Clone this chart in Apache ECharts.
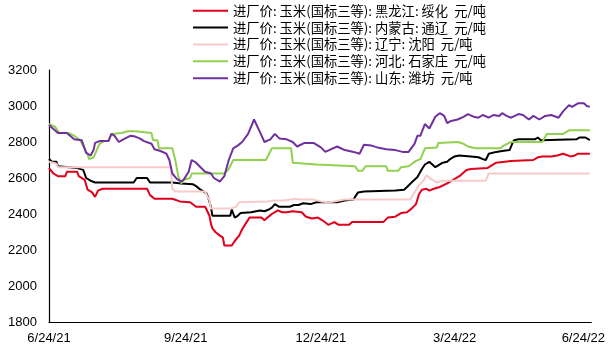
<!DOCTYPE html>
<html>
<head>
<meta charset="utf-8">
<script src="https://cdn.jsdelivr.net/npm/echarts@6/dist/echarts.min.js"></script>
<style>
  html, body { margin: 0; padding: 0; background: #fff; }
  #chart { width: 608px; height: 350px; }
</style>
</head>
<body>
<div id="chart"></div>
<script>
// Corn (national grade 3) factory-gate prices, yuan/tonne
const seriesNames = [
  '进厂价: 玉米(国标三等): 黑龙江: 绥化  元/吨',
  '进厂价: 玉米(国标三等): 内蒙古: 通辽  元/吨',
  '进厂价: 玉米(国标三等): 辽宁: 沈阳  元/吨',
  '进厂价: 玉米(国标三等): 河北: 石家庄  元/吨',
  '进厂价: 玉米(国标三等): 山东: 潍坊  元/吨'
];
const seriesColors = ['#E0001B', '#000000', '#F7CACA', '#92D050', '#7030A0'];

const suihua = [
  ['2021-06-24',2655],['2021-06-27',2625],['2021-06-30',2610],['2021-07-05',2610],['2021-07-06',2635],
  ['2021-07-13',2635],['2021-07-14',2610],['2021-07-18',2590],['2021-07-20',2535],['2021-07-23',2520],
  ['2021-07-25',2495],['2021-07-27',2530],['2021-07-30',2540],['2021-08-29',2540],['2021-08-31',2505],
  ['2021-09-03',2485],['2021-09-15',2485],['2021-09-20',2470],['2021-09-27',2465],['2021-10-01',2440],
  ['2021-10-07',2440],['2021-10-08',2425],['2021-10-10',2390],['2021-10-11',2345],['2021-10-12',2320],
  ['2021-10-14',2300],['2021-10-17',2280],['2021-10-19',2270],['2021-10-20',2225],['2021-10-25',2225],
  ['2021-10-27',2250],['2021-10-30',2280],['2021-11-01',2315],['2021-11-04',2355],['2021-11-06',2380],
  ['2021-11-14',2380],['2021-11-16',2365],['2021-11-18',2380],['2021-11-21',2400],['2021-11-25',2420],
  ['2021-11-28',2410],['2021-12-01',2410],['2021-12-05',2415],['2021-12-11',2410],['2021-12-14',2385],
  ['2021-12-18',2375],['2021-12-22',2380],['2021-12-25',2365],['2021-12-29',2340],['2022-01-02',2355],
  ['2022-01-05',2340],['2022-01-12',2340],['2022-01-14',2355],['2022-02-04',2355],['2022-02-07',2380],
  ['2022-02-12',2385],['2022-02-16',2405],['2022-02-20',2410],['2022-02-23',2430],['2022-02-26',2455],
  ['2022-02-28',2510],['2022-03-02',2535],['2022-03-05',2540],['2022-03-07',2530],['2022-03-10',2540],
  ['2022-03-14',2550],['2022-03-19',2570],['2022-03-23',2590],['2022-03-28',2615],['2022-04-01',2645],
  ['2022-04-04',2650],['2022-04-15',2655],['2022-04-18',2670],['2022-04-21',2685],['2022-05-01',2695],
  ['2022-05-16',2700],['2022-05-19',2715],['2022-05-20',2705],['2022-05-22',2720],['2022-05-28',2720],
  ['2022-06-01',2725],['2022-06-05',2735],['2022-06-10',2720],['2022-06-13',2725],['2022-06-15',2735],
  ['2022-06-23',2735]
];

const tongliao = [
  ['2021-06-24',2705],['2021-06-26',2690],['2021-06-29',2690],['2021-06-30',2665],['2021-07-13',2655],
  ['2021-07-17',2645],['2021-07-19',2600],['2021-07-22',2585],['2021-07-25',2575],['2021-08-20',2575],
  ['2021-08-22',2600],['2021-08-29',2600],['2021-08-31',2575],['2021-09-15',2575],['2021-09-21',2570],
  ['2021-09-29',2565],['2021-10-01',2555],['2021-10-04',2535],['2021-10-08',2515],['2021-10-09',2495],
  ['2021-10-11',2440],['2021-10-12',2390],['2021-10-24',2390],['2021-10-25',2425],['2021-10-27',2380],
  ['2021-10-29',2390],['2021-10-31',2405],['2021-11-07',2410],['2021-11-13',2420],['2021-11-16',2415],
  ['2021-11-19',2425],['2021-11-21',2435],['2021-11-23',2455],['2021-11-26',2440],['2021-12-03',2440],
  ['2021-12-06',2450],['2021-12-09',2450],['2021-12-12',2460],['2021-12-17',2455],['2021-12-21',2465],
  ['2022-01-04',2465],['2022-01-09',2475],['2022-01-15',2480],['2022-01-16',2495],['2022-01-18',2520],
  ['2022-01-22',2525],['2022-02-12',2530],['2022-02-18',2535],['2022-02-20',2550],['2022-02-23',2575],
  ['2022-02-27',2605],['2022-03-02',2650],['2022-03-04',2675],['2022-03-07',2690],['2022-03-09',2675],
  ['2022-03-11',2660],['2022-03-13',2670],['2022-03-16',2685],['2022-03-19',2690],['2022-03-21',2705],
  ['2022-03-24',2720],['2022-03-27',2725],['2022-04-04',2720],['2022-04-09',2715],['2022-04-12',2705],
  ['2022-04-14',2700],['2022-04-16',2735],['2022-04-21',2745],['2022-04-25',2750],['2022-04-30',2755],
  ['2022-05-02',2795],['2022-05-03',2810],['2022-05-06',2815],['2022-05-17',2815],['2022-05-19',2825],
  ['2022-05-21',2810],['2022-06-14',2815],['2022-06-16',2825],['2022-06-20',2825],['2022-06-23',2810]
];

const shenyang = [
  ['2021-06-24',2690],['2021-06-27',2685],['2021-06-29',2680],['2021-06-30',2660],['2021-09-14',2660],
  ['2021-09-15',2540],['2021-09-17',2525],['2021-10-07',2525],['2021-10-10',2475],['2021-10-11',2430],
  ['2021-10-24',2430],['2021-10-28',2440],['2021-10-30',2465],['2021-11-18',2470],['2021-11-23',2475],
  ['2021-11-29',2475],['2021-11-30',2485],['2021-12-07',2485],['2021-12-08',2495],['2021-12-10',2480],
  ['2021-12-19',2480],['2021-12-24',2470],['2021-12-29',2465],['2022-01-02',2470],['2022-01-09',2480],
  ['2022-02-22',2480],['2022-02-25',2520],['2022-02-28',2560],['2022-03-03',2585],['2022-03-05',2615],
  ['2022-03-08',2595],['2022-03-12',2575],['2022-03-16',2585],['2022-04-14',2585],['2022-04-16',2625],
  ['2022-06-23',2625]
];

const shijiazhuang = [
  ['2021-06-24',2900],['2021-06-28',2885],['2021-07-01',2850],['2021-07-07',2850],['2021-07-11',2835],
  ['2021-07-15',2810],['2021-07-20',2730],['2021-07-21',2705],['2021-07-24',2715],['2021-07-28',2790],
  ['2021-07-31',2805],['2021-08-03',2805],['2021-08-05',2845],['2021-08-12',2850],['2021-08-16',2860],
  ['2021-08-21',2860],['2021-08-22',2850],['2021-09-01',2850],['2021-09-02',2810],['2021-09-05',2810],
  ['2021-09-06',2765],['2021-09-15',2765],['2021-09-17',2700],['2021-09-19',2610],['2021-09-21',2570],
  ['2021-09-23',2590],['2021-09-27',2600],['2021-09-28',2625],['2021-10-20',2625],['2021-10-23',2650],
  ['2021-10-26',2700],['2021-11-17',2700],['2021-11-21',2765],['2021-12-04',2765],['2021-12-05',2685],
  ['2021-12-21',2675],['2021-12-22',2665],['2022-01-16',2665],['2022-01-18',2640],['2022-01-21',2640],
  ['2022-01-23',2665],['2022-02-06',2665],['2022-02-07',2640],['2022-02-14',2640],['2022-02-16',2660],
  ['2022-02-21',2665],['2022-02-26',2695],['2022-03-01',2705],['2022-03-04',2765],['2022-03-12',2770],
  ['2022-03-13',2795],['2022-03-26',2800],['2022-03-30',2790],['2022-04-02',2775],['2022-04-07',2765],
  ['2022-04-24',2765],['2022-04-26',2780],['2022-05-01',2800],['2022-05-22',2800],['2022-05-25',2845],
  ['2022-06-05',2845],['2022-06-09',2865],['2022-06-23',2865]
];

const weifang = [
  ['2021-06-24',2895],['2021-06-30',2850],['2021-07-06',2850],['2021-07-11',2815],['2021-07-16',2810],
  ['2021-07-19',2740],['2021-07-22',2725],['2021-07-24',2755],['2021-07-25',2795],['2021-07-28',2805],
  ['2021-08-03',2805],['2021-08-05',2845],['2021-08-07',2835],['2021-08-10',2800],['2021-08-13',2815],
  ['2021-08-18',2835],['2021-08-21',2830],['2021-08-24',2820],['2021-08-27',2805],['2021-09-01',2790],
  ['2021-09-03',2760],['2021-09-07',2750],['2021-09-11',2735],['2021-09-13',2700],['2021-09-15',2625],
  ['2021-09-18',2595],['2021-09-21',2580],['2021-09-23',2595],['2021-09-26',2635],['2021-09-28',2700],
  ['2021-10-01',2685],['2021-10-07',2635],['2021-10-11',2625],['2021-10-13',2600],['2021-10-17',2580],
  ['2021-10-20',2610],['2021-10-23',2700],['2021-10-26',2765],['2021-10-29',2780],['2021-11-01',2800],
  ['2021-11-05',2845],['2021-11-09',2925],['2021-11-13',2855],['2021-11-16',2800],['2021-11-20',2815],
  ['2021-11-23',2845],['2021-11-26',2820],['2021-12-01',2815],['2021-12-05',2800],['2021-12-08',2775],
  ['2021-12-13',2795],['2021-12-19',2795],['2021-12-24',2770],['2021-12-27',2745],['2021-12-31',2760],
  ['2022-01-04',2775],['2022-01-09',2755],['2022-01-12',2750],['2022-01-15',2745],['2022-01-19',2735],
  ['2022-01-22',2785],['2022-01-27',2780],['2022-01-31',2770],['2022-02-06',2760],['2022-02-12',2755],
  ['2022-02-17',2745],['2022-02-21',2745],['2022-02-25',2790],['2022-02-27',2835],['2022-03-01',2835],
  ['2022-03-04',2900],['2022-03-07',2875],['2022-03-11',2940],['2022-03-14',2960],['2022-03-17',2945],
  ['2022-03-19',2905],['2022-03-21',2915],['2022-03-26',2925],['2022-03-30',2940],['2022-04-02',2955],
  ['2022-04-06',2940],['2022-04-09',2935],['2022-04-12',2950],['2022-04-16',2935],['2022-04-19',2950],
  ['2022-04-23',2945],['2022-04-25',2960],['2022-04-28',2945],['2022-05-01',2935],['2022-05-06',2955],
  ['2022-05-09',2950],['2022-05-13',2925],['2022-05-16',2945],['2022-05-20',2925],['2022-05-24',2945],
  ['2022-05-28',2950],['2022-06-02',2935],['2022-06-05',2970],['2022-06-09',3005],['2022-06-11',2995],
  ['2022-06-15',3015],['2022-06-19',3015],['2022-06-21',3000],['2022-06-23',2995]
];

// Date axis: labelled quarter marks
const xTickDates = ['2021-06-24', '2021-09-24', '2021-12-24', '2022-03-24', '2022-06-24'];
const yTicks = { min: 1800, max: 3200, step: 200 };

function localTime(s) {
  const p = s.split('-').map(Number);
  return new Date(p[0], p[1] - 1, p[2]).getTime();
}
const xTickTimes = xTickDates.map(localTime);
const lastTick = xTickTimes[xTickTimes.length - 1];

const allData = [suihua, tongliao, shenyang, shijiazhuang, weifang];

const chart = echarts.init(document.getElementById('chart'), null, { renderer: 'canvas' });
chart.setOption({
  animation: false,
  backgroundColor: '#ffffff',
  textStyle: { fontFamily: '"Liberation Sans", Arial, sans-serif' },
  legend: {
    orient: 'vertical',
    left: 193,
    top: 4,
    padding: 0,
    itemWidth: 35,
    itemHeight: 2,
    itemGap: 3.6,
    icon: 'rect',
    textStyle: {
      fontFamily: '"Noto Sans CJK SC", sans-serif',
      fontSize: 13.3,
      color: '#000'
    },
    data: seriesNames
  },
  grid: { left: 49, right: 15, top: 70, bottom: 28, containLabel: false },
  xAxis: {
    type: 'value',
    min: xTickTimes[0],
    max: lastTick,
    axisLine: { show: true, lineStyle: { color: '#000', width: 1.2 } },
    axisTick: { show: false },
    splitLine: { show: false },
    axisLabel: {
      customValues: xTickTimes,
      margin: 10,
      fontSize: 13,
      color: '#000',
      hideOverlap: false,
      formatter: function (v) {
        const d = new Date(v);
        const s = (d.getMonth() + 1) + '/' + d.getDate() + '/' + String(d.getFullYear()).slice(2);
        return Math.abs(v - lastTick) < 86400000 ? '{edge|' + s + '}' : s;
      },
      rich: {
        edge: { fontSize: 13, color: '#000', padding: [0, 16, 0, 0] }
      }
    }
  },
  yAxis: {
    type: 'value',
    min: yTicks.min,
    max: yTicks.max,
    interval: yTicks.step,
    axisLine: { show: true, lineStyle: { color: '#000', width: 1.2 } },
    axisTick: { show: false },
    splitLine: { show: false },
    axisLabel: {
      margin: 12,
      fontSize: 13,
      color: '#000',
      formatter: function (v) { return String(v); }
    }
  },
  series: allData.map(function (d, i) {
    return {
      name: seriesNames[i],
      type: 'line',
      data: d.map(function (p) { return [localTime(p[0]), p[1]]; }),
      showSymbol: false,
      symbol: 'none',
      lineStyle: { color: seriesColors[i], width: 2 },
      itemStyle: { color: seriesColors[i] }
    };
  })
});
</script>
</body>
</html>
